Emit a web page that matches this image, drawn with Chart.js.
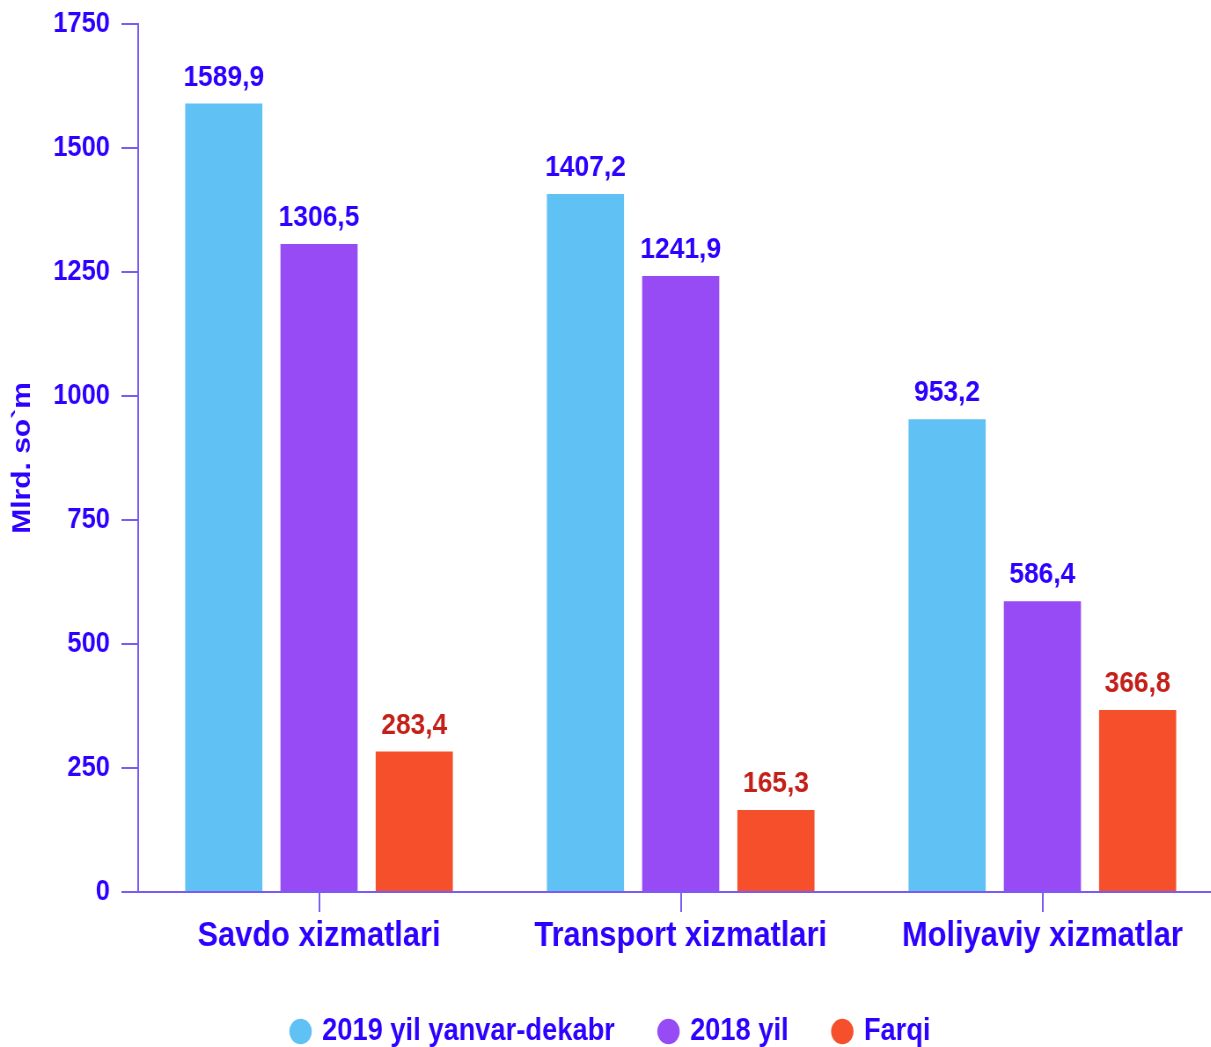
<!DOCTYPE html>
<html>
<head>
<meta charset="utf-8">
<script src="https://cdn.jsdelivr.net/npm/chart.js@4/dist/chart.umd.min.js"></script>
<style>
  html, body { margin: 0; padding: 0; background: #ffffff; overflow: hidden; width: 1211px; height: 1047px; }
  #wrap { position: absolute; left: 0; top: 0; width: 1391px; height: 1047px; transform: scaleX(0.88); transform-origin: 0 0; }
</style>
</head>
<body>
<div id="wrap"><canvas id="c" width="1391" height="1047"></canvas></div>
<script>
const categories = ["Savdo xizmatlari", "Transport xizmatlari", "Moliyaviy xizmatlar"];
const seriesNames = ["2019 yil yanvar-dekabr", "2018 yil", "Farqi"];
const values2019 = [1589.9, 1407.2, 953.2];
const values2018 = [1306.5, 1241.9, 586.4];
const valuesDiff = [283.4, 165.3, 366.8];
const yTicks = [0, 250, 500, 750, 1000, 1250, 1500, 1750];
const yTitle = "Mlrd. so`m";

const TEXT = '#2d00ff';
const AXIS = '#7b5cf2';
const FONT = "'Liberation Sans', Arial, Helvetica, sans-serif";

const labelPlugin = {
  id: 'barLabels',
  afterDatasetsDraw(chart) {
    const ctx = chart.ctx;
    ctx.save();
    ctx.textAlign = 'center';
    ctx.textBaseline = 'bottom';
    ctx.font = 'bold 30px ' + FONT;
    chart.data.datasets.forEach((ds, di) => {
      const meta = chart.getDatasetMeta(di);
      meta.data.forEach((bar, i) => {
        ctx.fillStyle = ds.labelColor;
        const txt = ds.data[i].toFixed(1).replace('.', ',');
        ctx.fillText(txt, bar.x, bar.y - 11);
      });
    });
    ctx.restore();
  }
};

new Chart(document.getElementById('c'), {
  type: 'bar',
  data: {
    labels: categories,
    datasets: [
      { label: seriesNames[0], data: values2019, backgroundColor: '#60c1f5', labelColor: TEXT },
      { label: seriesNames[1], data: values2018, backgroundColor: '#974bf5', labelColor: TEXT },
      { label: seriesNames[2], data: valuesDiff, backgroundColor: '#f5502b', labelColor: '#c4201a' }
    ]
  },
  options: {
    responsive: false,
    animation: false,
    devicePixelRatio: 1,
    layout: { padding: { top: 24, left: 0, right: 1, bottom: -10 } },
    datasets: { bar: { categoryPercentage: 0.79, barPercentage: 0.81 } },
    plugins: {
      legend: {
        position: 'bottom',
        labels: {
          usePointStyle: true,
          pointStyle: 'circle',
          boxWidth: 18,
          boxHeight: 18,
          padding: 52,
          color: TEXT,
          font: { family: FONT, size: 31, weight: 'bold' }
        }
      },
      tooltip: { enabled: false }
    },
    scales: {
      x: {
        grid: { display: true, drawOnChartArea: false, offset: false, color: AXIS, lineWidth: 2, tickLength: 20, tickColor: AXIS },
        border: { display: true, color: AXIS, width: 2 },
        ticks: { color: TEXT, font: { family: FONT, size: 35, weight: 'bold' }, padding: 3 },
        afterFit(s) { s.height = 72; s.paddingLeft = 0; s.paddingRight = 0; }
      },
      y: {
        min: 0, max: 1750,
        afterBuildTicks(s) { s.ticks = yTicks.map(v => ({ value: v })); },
        grid: { display: true, drawOnChartArea: false, color: AXIS, lineWidth: 2, tickLength: 19, tickColor: AXIS },
        border: { display: true, color: AXIS, width: 2 },
        ticks: { color: TEXT, font: { family: FONT, size: 29, weight: 'bold' }, padding: 13, callback: v => String(v) },
        title: { display: true, text: yTitle, color: TEXT, font: { family: FONT, size: 30, weight: 'bold' }, padding: { top: 8, bottom: 0 } },
        afterFit(s) { s.width = 157; s.paddingTop = 0; s.paddingBottom = 0; }
      }
    }
  },
  plugins: [labelPlugin]
});
</script>
</body>
</html>
